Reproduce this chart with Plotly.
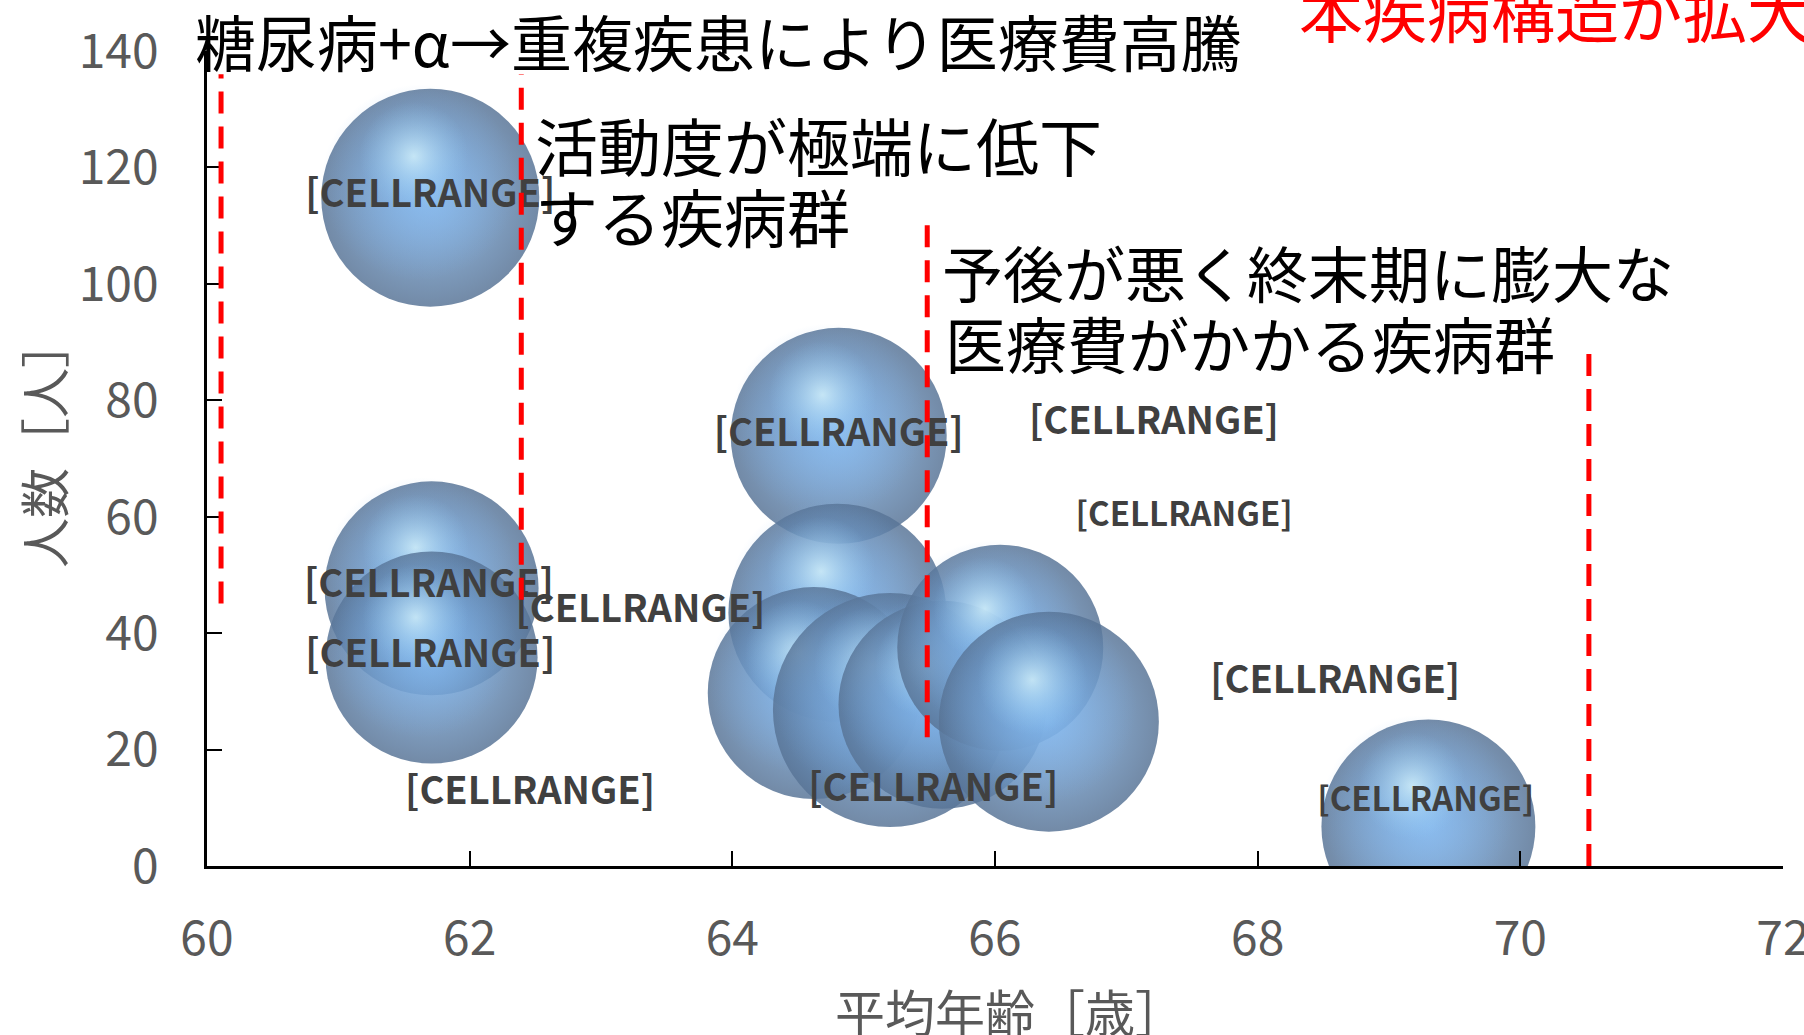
import math
import plotly.graph_objects as go

# ---------------- data ----------------
avg_age = [61.70, 61.71, 61.71, 64.81, 64.80, 64.62, 65.20, 65.60, 66.04, 66.41, 69.30]
patients = [114.8, 47.7, 35.8, 73.9, 43.5, 29.7, 26.8, 27.7, 37.5, 24.8, 6.8]
bubble_size = [86.8, 83.6, 82.1, 85.2, 86.8, 82.1, 100.0, 79.0, 77.5, 88.4, 83.6]

label_text = "[CELLRANGE]"
label_x = [61.70, 61.69, 61.70, 64.81, 63.30, 62.46, 67.21, 67.44, 68.59, 65.53, 69.28]
label_y = [114.8, 47.9, 35.9, 73.8, 43.6, 12.2, 75.9, 59.9, 31.4, 12.8, 10.8]

x_ticks = [60, 62, 64, 66, 68, 70, 72]
y_ticks = [0, 20, 40, 60, 80, 100, 120, 140]

x_title = "平均年齢［歳］"
y_title = "人数［人］"

note_title = "糖尿病+α→重複疾患により医療費高騰"
note_red = "本疾病構造が拡大"
note_mid = ["活動度が極端に低下", "する疾病群"]
note_right = ["予後が悪く終末期に膨大な", "医療費がかかる疾病群"]

# red dashed divider lines (data coordinates)
divider_x = [60.107, 62.393, 65.484, 70.522]
divider_y0 = [45.1, 45.75, 22.1, 0.0]
divider_y1 = [136.0, 136.0, 112.3, 90.2]

# ---------------- layout constants ----------------
W, H = 1804, 1035
ML, MR, MT, MB = 207, 21, 51, 169
X_RANGE = [60, 72]
Y_RANGE = [0, 140]
PW = W - ML - MR
PH = H - MT - MB
PX_PER_X = PW / (X_RANGE[1] - X_RANGE[0])
PX_PER_Y = PH / (Y_RANGE[1] - Y_RANGE[0])
MAX_D = 234.0
SIZEREF = 2.0 * max(bubble_size) / MAX_D ** 2

JP = "Noto Sans CJK JP"


def paper(px, py):
    return (px - ML) / PW, (H - MB - py) / PH


fig = go.Figure()

# bubbles: base, soft glow, specular highlight (per bubble to keep stacking order)
for xv, yv, sv in zip(avg_age, patients, bubble_size):
    r = MAX_D / 2 * math.sqrt(sv / max(bubble_size))
    fig.add_trace(go.Scatter(
        x=[xv], y=[yv], mode="markers", hoverinfo="skip", showlegend=False,
        marker=dict(size=[sv], sizemode="area", sizeref=SIZEREF,
                    color="rgb(88,116,150)", opacity=0.84,
                    gradient=dict(type="radial", color="rgb(128,180,234)"),
                    line=dict(width=0))))
    gs = 0.90
    fig.add_trace(go.Scatter(
        x=[xv - 0.10 * r / PX_PER_X], y=[yv + 0.14 * r / PX_PER_Y],
        mode="markers", hoverinfo="skip", showlegend=False,
        marker=dict(size=[sv * gs * gs], sizemode="area", sizeref=SIZEREF,
                    color="rgba(120,172,230,0)",
                    gradient=dict(type="radial", color="rgba(132,186,240,1)"),
                    line=dict(width=0))))
    hs = 0.50
    fig.add_trace(go.Scatter(
        x=[xv - 0.15 * r / PX_PER_X], y=[yv + 0.38 * r / PX_PER_Y],
        mode="markers", hoverinfo="skip", showlegend=False,
        marker=dict(size=[sv * hs * hs], sizemode="area", sizeref=SIZEREF,
                    color="rgba(150,205,245,0)",
                    gradient=dict(type="radial", color="rgba(225,252,255,1)"),
                    line=dict(width=0))))

# data labels
label_sizes = [38, 38, 38, 38, 38, 38, 38, 33, 38, 38, 33]
fig.add_trace(go.Scatter(
    x=label_x, y=label_y, mode="text", text=[label_text] * len(label_x),
    textposition="middle center", hoverinfo="skip", showlegend=False,
    textfont=dict(family=JP, size=label_sizes, color="#404040", weight="bold"),
    cliponaxis=False))

# red dashed dividers
for xv, y0, y1 in zip(divider_x, divider_y0, divider_y1):
    fig.add_shape(type="line", xref="x", yref="y", x0=xv, x1=xv, y0=y0, y1=y1,
                  line=dict(color="#ff0000", width=5, dash="22px,13px"), layer="above")

annotations = []


def add_note(text, left_px, cy_px, color="#000000", size=61):
    px, py = paper(left_px, cy_px)
    annotations.append(dict(text=text, x=px, y=py, xref="paper", yref="paper",
                            xanchor="left", yanchor="middle", showarrow=False,
                            font=dict(family=JP, size=size, color=color)))


add_note(note_title, 193, 40)
add_note(note_red, 1297, 9, color="#ff0000", size=64)
add_note(note_mid[0], 533, 143, size=63)
add_note(note_mid[1], 533, 215, size=63)
add_note(note_right[0], 940, 271)
add_note(note_right[1], 943, 342)

xt, yt = paper(1010, 1010)
annotations.append(dict(text=x_title, x=xt, y=yt, xref="paper", yref="paper",
                        xanchor="center", yanchor="middle", showarrow=False,
                        font=dict(family=JP, size=50, color="#595959")))
xt, yt = paper(42, 443)
annotations.append(dict(text=y_title, x=xt, y=yt, xref="paper", yref="paper",
                        xanchor="center", yanchor="middle", showarrow=False, textangle=-90,
                        font=dict(family=JP, size=50, color="#595959")))

axis_common = dict(showgrid=False, zeroline=False, showline=True, linecolor="#000000",
                   linewidth=2.5, ticks="inside", ticklen=15, tickwidth=2,
                   tickcolor="#000000", ticklabeloverflow="allow",
                   tickfont=dict(family=JP, size=48, color="#595959"))

fig.update_layout(
    width=W, height=H,
    margin=dict(l=ML, r=MR, t=MT, b=MB, autoexpand=False),
    paper_bgcolor="#ffffff", plot_bgcolor="#ffffff",
    xaxis=dict(range=X_RANGE, tickvals=x_ticks, ticktext=[str(v) for v in x_ticks],
               ticklabelstandoff=29, **axis_common),
    yaxis=dict(range=Y_RANGE, tickvals=y_ticks, ticktext=[str(v) for v in y_ticks],
               ticklabelstandoff=36, **axis_common),
    annotations=annotations,
    showlegend=False,
)

fig.write_html("out.html")
